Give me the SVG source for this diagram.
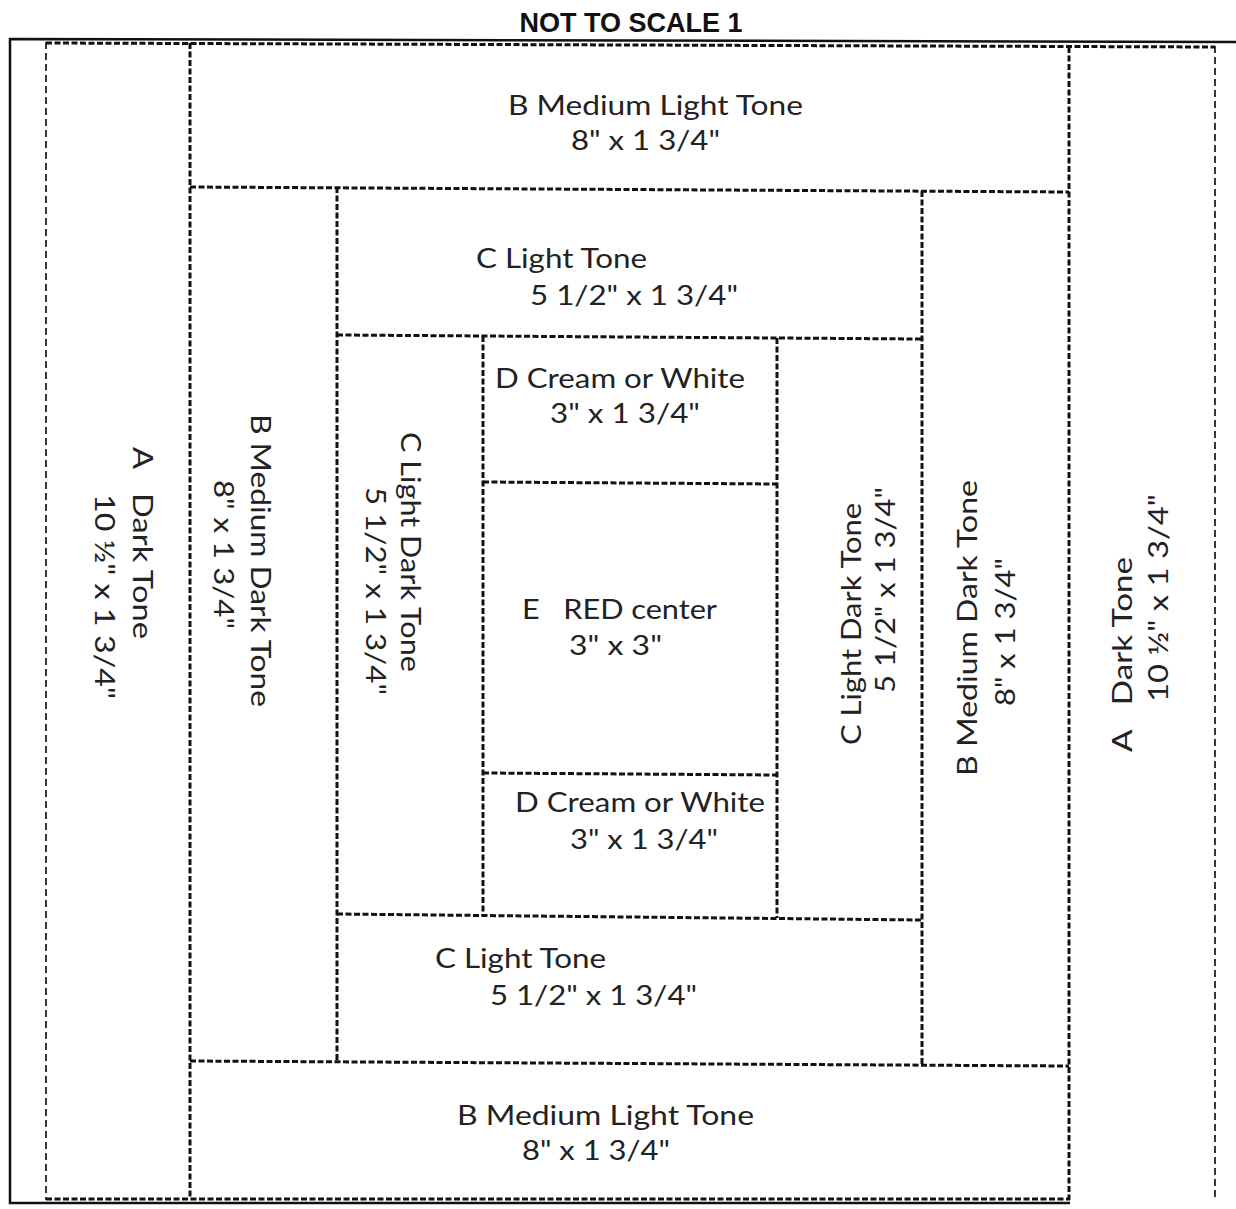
<svg xmlns="http://www.w3.org/2000/svg" width="1236" height="1209" viewBox="0 0 1236 1209">
<style>
.bg{fill:#ffffff}
.solid{stroke:#111;stroke-width:2.5;fill:none}
.fine{stroke:#222;stroke-width:1.8;stroke-dasharray:7 4;fill:none}
.seam{stroke:#111;stroke-width:3;stroke-dasharray:6 2.5;fill:none}
.t{font-family:Lato,"Liberation Sans",sans-serif;font-size:27px;fill:#222;white-space:pre}
.title{font-family:"Liberation Sans",Arial,sans-serif;font-size:27px;font-weight:bold;fill:#111}
</style>
<rect class="bg" x="0" y="0" width="1236" height="1209"/>
<text class="title" x="631" y="32" text-anchor="middle">NOT TO SCALE 1</text>
<g id="seams">
<polyline class="solid" points="1236,42 10,39 10,1203 1070,1203"/>
<line class="fine" x1="46" y1="42" x2="46" y2="1200"/>
<line class="fine" x1="1215" y1="46" x2="1215" y2="1200"/>
<line class="seam" x1="46" y1="43" x2="1215" y2="47"/>
<line class="seam" x1="46" y1="1199" x2="1070" y2="1199"/>
<line class="seam" x1="190" y1="43" x2="190" y2="1199"/>
<line class="seam" x1="1069" y1="47" x2="1069" y2="1200"/>
<line class="seam" x1="190" y1="187" x2="1069" y2="192"/>
<line class="seam" x1="190" y1="1061" x2="1069" y2="1066"/>
<line class="seam" x1="337" y1="187" x2="337" y2="1061"/>
<line class="seam" x1="922" y1="191" x2="922" y2="1065"/>
<line class="seam" x1="337" y1="335" x2="922" y2="339"/>
<line class="seam" x1="337" y1="914" x2="922" y2="920"/>
<line class="seam" x1="483" y1="336" x2="483" y2="916"/>
<line class="seam" x1="777" y1="338" x2="777" y2="918"/>
<line class="seam" x1="483" y1="482" x2="777" y2="484"/>
<line class="seam" x1="483" y1="773" x2="777" y2="775"/>
</g>
<g id="A-left">
<text class="t" transform="translate(133,447) rotate(90)" textLength="192" lengthAdjust="spacingAndGlyphs">A   Dark Tone</text>
<text class="t" transform="translate(95,494) rotate(90)" textLength="205" lengthAdjust="spacingAndGlyphs">10 ½" x 1 3/4"</text>
</g>
<g id="B-top">
<text class="t" x="508" y="115" textLength="295" lengthAdjust="spacingAndGlyphs">B Medium Light Tone</text>
<text class="t" x="571" y="150" textLength="149" lengthAdjust="spacingAndGlyphs">8" x 1 3/4"</text>
</g>
<g id="B-left">
<text class="t" transform="translate(251,414) rotate(90)" textLength="293" lengthAdjust="spacingAndGlyphs">B Medium Dark Tone</text>
<text class="t" transform="translate(214,480) rotate(90)" textLength="149" lengthAdjust="spacingAndGlyphs">8" x 1 3/4"</text>
</g>
<g id="C-top">
<text class="t" x="476" y="268" textLength="171" lengthAdjust="spacingAndGlyphs">C Light Tone</text>
<text class="t" x="530" y="305" textLength="208" lengthAdjust="spacingAndGlyphs">5 1/2" x 1 3/4"</text>
</g>
<g id="C-left">
<text class="t" transform="translate(401,432) rotate(90)" textLength="240" lengthAdjust="spacingAndGlyphs">C Light Dark Tone</text>
<text class="t" transform="translate(366,487) rotate(90)" textLength="208" lengthAdjust="spacingAndGlyphs">5 1/2" x 1 3/4"</text>
</g>
<g id="D-top">
<text class="t" x="495" y="388" textLength="250" lengthAdjust="spacingAndGlyphs">D Cream or White</text>
<text class="t" x="550" y="423" textLength="150" lengthAdjust="spacingAndGlyphs">3" x 1 3/4"</text>
</g>
<g id="E-center">
<text class="t" x="522" y="619" textLength="195" lengthAdjust="spacingAndGlyphs">E   RED center</text>
<text class="t" x="569" y="655" textLength="93" lengthAdjust="spacingAndGlyphs">3" x 3"</text>
</g>
<g id="D-bottom">
<text class="t" x="515" y="812" textLength="250" lengthAdjust="spacingAndGlyphs">D Cream or White</text>
<text class="t" x="570" y="849" textLength="148" lengthAdjust="spacingAndGlyphs">3" x 1 3/4"</text>
</g>
<g id="C-right">
<text class="t" transform="translate(861,745) rotate(-90)" textLength="242" lengthAdjust="spacingAndGlyphs">C Light Dark Tone</text>
<text class="t" transform="translate(895,693) rotate(-90)" textLength="206" lengthAdjust="spacingAndGlyphs">5 1/2" x 1 3/4"</text>
</g>
<g id="C-bottom">
<text class="t" x="435" y="968" textLength="171" lengthAdjust="spacingAndGlyphs">C Light Tone</text>
<text class="t" x="490" y="1005" textLength="207" lengthAdjust="spacingAndGlyphs">5 1/2" x 1 3/4"</text>
</g>
<g id="B-right">
<text class="t" transform="translate(977,776) rotate(-90)" textLength="296" lengthAdjust="spacingAndGlyphs">B Medium Dark Tone</text>
<text class="t" transform="translate(1015,706) rotate(-90)" textLength="148" lengthAdjust="spacingAndGlyphs">8" x 1 3/4"</text>
</g>
<g id="B-bottom">
<text class="t" x="457" y="1125" textLength="297" lengthAdjust="spacingAndGlyphs">B Medium Light Tone</text>
<text class="t" x="522" y="1160" textLength="148" lengthAdjust="spacingAndGlyphs">8" x 1 3/4"</text>
</g>
<g id="A-right">
<text class="t" transform="translate(1132,752) rotate(-90)" textLength="195" lengthAdjust="spacingAndGlyphs">A   Dark Tone</text>
<text class="t" transform="translate(1168,702) rotate(-90)" textLength="208" lengthAdjust="spacingAndGlyphs">10 ½" x 1 3/4"</text>
</g>
</svg>
